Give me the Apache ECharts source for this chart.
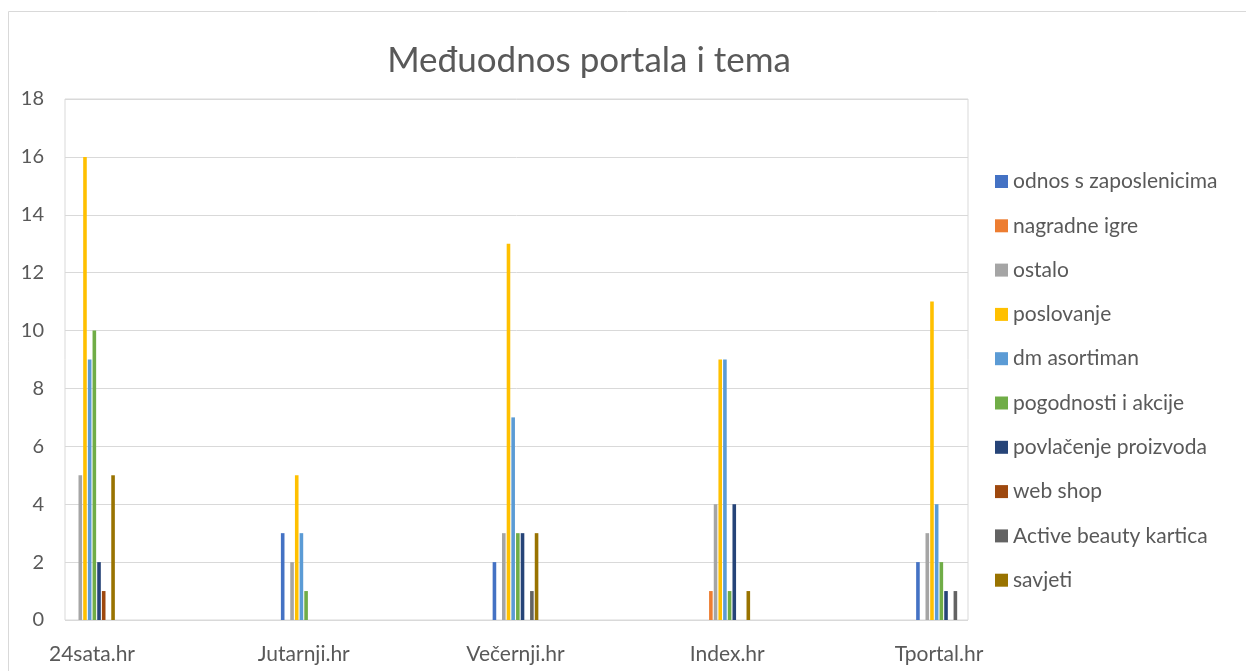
<!DOCTYPE html>
<html>
<head>
<meta charset="utf-8">
<title>Međuodnos portala i tema</title>
<script src="https://cdn.jsdelivr.net/npm/echarts@6/dist/echarts.min.js"></script>
<style>
  html, body { margin: 0; padding: 0; background: #fff; }
  #chart { width: 1246px; height: 671px; }
</style>
</head>
<body>
<div id="chart"></div>
<script>
// portali (kategorije)
var portals = ['24sata.hr', 'Jutarnji.hr', 'Večernji.hr', 'Index.hr', 'Tportal.hr'];

// teme (serije) i vrijednosti po portalu
var topics = ['odnos s zaposlenicima', 'nagradne igre', 'ostalo', 'poslovanje', 'dm asortiman',
              'pogodnosti i akcije', 'povlačenje proizvoda', 'web shop', 'Active beauty kartica', 'savjeti'];
var odnos       = [0, 3, 2, 0, 2];
var nagradne    = [0, 0, 0, 1, 0];
var ostalo      = [5, 2, 3, 4, 3];
var poslovanje  = [16, 5, 13, 9, 11];
var asortiman   = [9, 3, 7, 9, 4];
var pogodnosti  = [10, 1, 3, 1, 2];
var povlacenje  = [2, 0, 3, 4, 1];
var webShop     = [1, 0, 0, 0, 0];
var activeBeauty = [0, 0, 1, 0, 1];
var savjeti     = [5, 0, 3, 1, 0];

var values = [odnos, nagradne, ostalo, poslovanje, asortiman, pogodnosti, povlacenje, webShop, activeBeauty, savjeti];
var colors = ['#4472C4', '#ED7D31', '#A5A5A5', '#FFC000', '#5B9BD5',
              '#70AD47', '#264478', '#9E480E', '#636363', '#997300'];

var chart = echarts.init(document.getElementById('chart'));
var font = 'Lato, "Noto Sans", sans-serif';
var txt = '#595959';

var series = topics.map(function (name, i) {
  return {
    name: name,
    type: 'bar',
    xAxisIndex: 1,
    yAxisIndex: 1,
    data: values[i],
    barWidth: 3.6,
    barGap: '30%',
    clip: false,
    itemStyle: { color: colors[i] }
  };
});

var option = {
  animation: false,
  textStyle: { fontFamily: font },
  color: colors,
  title: {
    text: 'Međuodnos portala i tema',
    left: 584,
    textAlign: 'center',
    top: 38,
    textStyle: { fontFamily: font, fontSize: 35, fontWeight: 'normal', color: txt }
  },
  legend: {
    orient: 'vertical',
    left: 990,
    top: 166,
    itemWidth: 13,
    itemHeight: 13,
    itemGap: 23.3,
    icon: 'rect',
    textStyle: { fontFamily: font, fontSize: 21, lineHeight: 21, color: txt },
    data: topics
  },
  grid: [
    // okvir i linije mreže
    { left: 65, right: 278, top: 99, bottom: 51, show: true, borderColor: '#d9d9d9', borderWidth: 1 },
    // stupci
    { left: 92, right: 307, top: 99, bottom: 51 }
  ],
  xAxis: [
    {
      type: 'category', gridIndex: 0, data: portals,
      axisLine: { show: false }, axisTick: { show: false }, axisLabel: { show: false }
    },
    {
      type: 'category', gridIndex: 1, data: portals, boundaryGap: false,
      axisLine: { show: false }, axisTick: { show: false },
      axisLabel: { fontFamily: font, fontSize: 21, color: txt, margin: 24 }
    }
  ],
  yAxis: [
    {
      type: 'value', gridIndex: 0, min: 0, max: 18, interval: 2,
      axisLabel: { fontFamily: font, fontSize: 20, color: txt, margin: 21 },
      splitLine: { lineStyle: { color: '#d9d9d9', width: 1 } }
    },
    {
      type: 'value', gridIndex: 1, min: 0, max: 18, interval: 2,
      axisLabel: { show: false }, splitLine: { show: false }, axisLine: { show: false }
    }
  ],
  graphic: [{
    type: 'rect',
    shape: { x: 8.5, y: 11.5, width: 1260, height: 700 },
    style: { fill: null, stroke: '#d9d9d9', lineWidth: 1 },
    silent: true
  }],
  series: series
};
chart.setOption(option);
</script>
</body>
</html>
